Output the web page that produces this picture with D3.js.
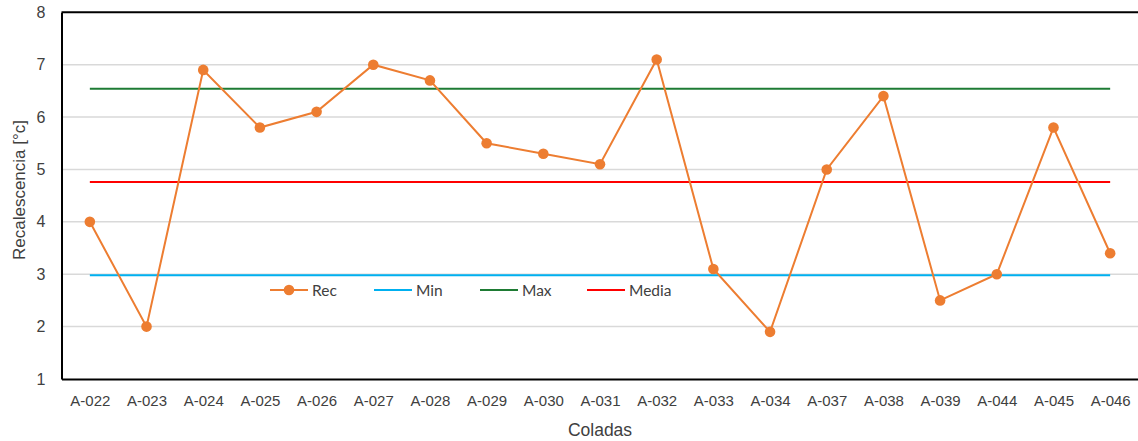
<!DOCTYPE html>
<html>
<head>
<meta charset="utf-8">
<script src="https://cdn.jsdelivr.net/npm/d3@7"></script>
<style>
  html, body { margin: 0; padding: 0; background: #fff; }
  svg { display: block; }
</style>
</head>
<body>
<svg id="chart" width="1138" height="441"></svg>
<script>
// Heats (coladas) and their recalescence readings
const categories = ["A-022","A-023","A-024","A-025","A-026","A-027","A-028","A-029","A-030","A-031","A-032","A-033","A-034","A-037","A-038","A-039","A-044","A-045","A-046"];
const recValues = [4.0, 2.0, 6.9, 5.8, 6.1, 7.0, 6.7, 5.5, 5.3, 5.1, 7.1, 3.1, 1.9, 5.0, 6.4, 2.5, 3.0, 5.8, 3.4];
const minValue = 2.98;
const maxValue = 6.54;
const mediaValue = 4.76;
const yTicks = [1, 2, 3, 4, 5, 6, 7, 8];
const legendItems = ["Rec", "Min", "Max", "Media"];

const colors = { Rec: "#ED7D31", Min: "#00B0F0", Max: "#1E7B34", Media: "#FF0000" };

const svg = d3.select("#chart");
const plotLeft = 61.5, plotRight = 1138.5, plotTop = 12.3, plotBottom = 379;

const x = d3.scalePoint().domain(categories).range([plotLeft, plotRight]).padding(0.5);
const y = d3.scaleLinear().domain([1, 8]).range([plotBottom, plotTop]);

// horizontal gridlines
svg.append("g")
  .selectAll("line")
  .data(yTicks.filter(t => t > 1 && t < 8))
  .join("line")
  .attr("x1", plotLeft).attr("x2", plotRight)
  .attr("y1", d => y(d)).attr("y2", d => y(d))
  .attr("stroke", "#D9D9D9").attr("stroke-width", 1.5);

// Y axis
const yAxis = svg.append("g")
  .attr("transform", `translate(${plotLeft},0)`)
  .call(d3.axisLeft(y).tickValues(yTicks).tickSize(0).tickPadding(16).tickFormat(d3.format("d")));
yAxis.select(".domain").attr("stroke", "#000").attr("stroke-width", 2);
yAxis.selectAll("text")
  .attr("font-family", "Liberation Sans, Arial, sans-serif")
  .attr("font-size", 16).attr("fill", "#404040");

// X axis
const xAxis = svg.append("g")
  .attr("transform", `translate(0,${plotBottom})`)
  .call(d3.axisBottom(x).tickSize(0).tickPadding(16));
xAxis.select(".domain").attr("stroke", "#000").attr("stroke-width", 2);
xAxis.selectAll("text")
  .attr("font-family", "Liberation Sans, Arial, sans-serif")
  .attr("font-size", 15).attr("fill", "#404040");

// top border of the plot area
svg.append("line")
  .attr("x1", plotLeft).attr("x2", plotRight)
  .attr("y1", plotTop).attr("y2", plotTop)
  .attr("stroke", "#000").attr("stroke-width", 2);

// reference lines
const refLines = [
  { name: "Min", value: minValue },
  { name: "Max", value: maxValue },
  { name: "Media", value: mediaValue }
];
const lineGen = d3.line().x(d => x(d.cat)).y(d => y(d.v));
refLines.forEach(r => {
  svg.append("path")
    .datum(categories.map(c => ({ cat: c, v: r.value })))
    .attr("d", lineGen)
    .attr("fill", "none")
    .attr("stroke", colors[r.name])
    .attr("stroke-width", 2);
});

// Rec series
const recData = categories.map((c, i) => ({ cat: c, v: recValues[i] }));
svg.append("path")
  .datum(recData)
  .attr("d", lineGen)
  .attr("fill", "none")
  .attr("stroke", colors.Rec)
  .attr("stroke-width", 2);
svg.append("g")
  .selectAll("circle")
  .data(recData)
  .join("circle")
  .attr("cx", d => x(d.cat)).attr("cy", d => y(d.v))
  .attr("r", 5.3)
  .attr("fill", colors.Rec);

// axis titles
svg.append("text")
  .attr("x", 600).attr("y", 436)
  .attr("text-anchor", "middle")
  .attr("font-family", "Liberation Sans, Arial, sans-serif")
  .attr("font-size", 17.5).attr("fill", "#404040")
  .text("Coladas");
svg.append("text")
  .attr("transform", "translate(25,190) rotate(-90)")
  .attr("text-anchor", "middle")
  .attr("font-family", "Liberation Sans, Arial, sans-serif")
  .attr("font-size", 17).attr("fill", "#404040")
  .text("Recalescencia [°c]");

// legend
const legendX = [270, 374, 480, 587];
const legendY = 290;
const lg = svg.append("g");
legendItems.forEach((name, i) => {
  const g = lg.append("g").attr("transform", `translate(${legendX[i]},${legendY})`);
  g.append("line").attr("x1", 0).attr("x2", 38).attr("y1", 0).attr("y2", 0)
    .attr("stroke", colors[name]).attr("stroke-width", 2);
  if (name === "Rec") {
    g.append("circle").attr("cx", 19).attr("cy", 0).attr("r", 5.3).attr("fill", colors[name]);
  }
  g.append("text").attr("x", 42).attr("y", 5.5)
    .attr("font-family", "Lato, Open Sans, sans-serif")
    .attr("font-size", 15.5).attr("fill", "#404040")
    .text(name);
});
</script>
</body>
</html>
